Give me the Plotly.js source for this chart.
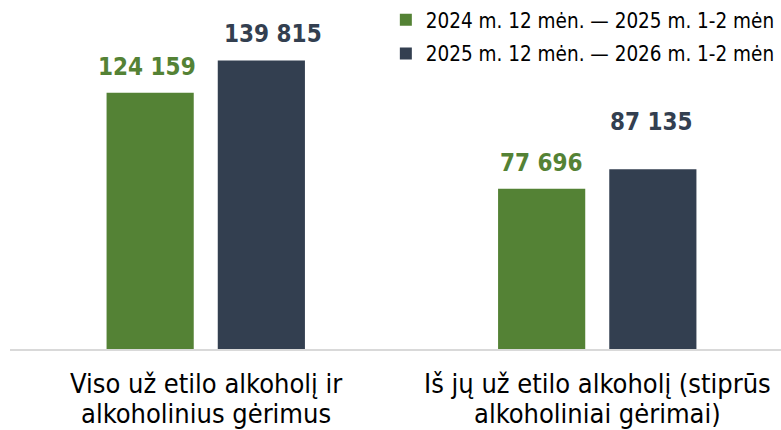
<!DOCTYPE html>
<html><head><meta charset="utf-8">
<script src="https://cdn.plot.ly/plotly-3.0.1.min.js"></script>
<style>html,body{margin:0;padding:0;overflow:hidden;background:#fff}#c{width:793px;height:430px}</style>
</head><body><div id="c"></div>
<script>
const categories = ["Viso už etilo alkoholį ir<br>alkoholinius gėrimus", "Iš jų už etilo alkoholį (stiprūs<br>alkoholiniai gėrimai)"];
const seriesNames = ["2024 m. 12 mėn. — 2025 m. 1-2 mėn", "2025 m. 12 mėn. — 2026 m. 1-2 mėn"];
const values2025 = [124159, 77696];
const values2026 = [139815, 87135];
const labels2025 = ["124 159", "77 696"];
const labels2026 = ["139 815", "87 135"];

const FONT = "DejaVu Sans Condensed";
const green = "#548235", navy = "#333F50";
const W = 793, ML = 10, MR = 0, MT = 7;
const bargap = 0.432, bargroupgap = 0.216;
// horizontal offset of each bar centre from its category centre (pixels), derived from bar layout settings
const band = (W - ML - MR) / categories.length;
const slotOffset = band * (1 - bargap) / 4;
// fine placement of the value labels relative to their bar top (pixels) [dx, dy]
const labelNudge2025 = [[-3, 26], [0, 26]];
const labelNudge2026 = [[12, 26], [-1.5, 47]];

function bar(name, y, color, grp){
  return {type:"bar", name, legendgroup:grp, x:categories, y, marker:{color}, hoverinfo:"skip"};
}
const data = [bar(seriesNames[0], values2025, green, "a"), bar(seriesNames[1], values2026, navy, "b")];

const annotations = [];
[[values2025, labels2025, green, -1, labelNudge2025], [values2026, labels2026, navy, 1, labelNudge2026]].forEach(([vals, labs, col, side, nudge]) => {
  vals.forEach((v, i) => annotations.push({
    xref:"x", yref:"y", x:categories[i], y:v, xshift:side*slotOffset + nudge[i][0], yshift:nudge[i][1],
    xanchor:"center", yanchor:"middle", showarrow:false, text:labs[i],
    font:{family:FONT, size:24, color:col, weight:"bold"}
  }));
});
categories.forEach((c) => {
  c.split("<br>").forEach((line, k) => annotations.push({
    xref:"x", yref:"paper", x:c, y:0, yshift:-34.5 - 30*k,
    xanchor:"center", yanchor:"middle", showarrow:false, text:line,
    font:{family:FONT, size:27, color:"#000"}
  }));
});

const layout = {
  width:W, height:430, margin:{l:ML,r:MR,t:MT,b:81},
  paper_bgcolor:"#fff", plot_bgcolor:"#fff",
  barmode:"group", bargap, bargroupgap,
  font:{family:FONT, color:"#000"},
  xaxis:{showline:true, linecolor:"#d9d9d9", linewidth:2, ticks:"", showticklabels:false, showgrid:false},
  yaxis:{range:[0,165700], visible:false, showgrid:false, zeroline:false},
  showlegend:true,
  legend:{orientation:"v", x:0.48, xanchor:"left", y:1 + MT/342, yanchor:"top", tracegroupgap:4,
          font:{size:20.5, color:"#000"}, bgcolor:"rgba(0,0,0,0)"},
  annotations
};
Plotly.newPlot("c", data, layout, {displayModeBar:false, staticPlot:true});
</script></body></html>
